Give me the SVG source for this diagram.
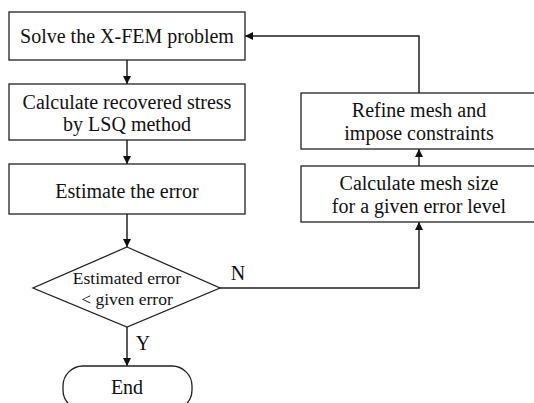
<svg xmlns="http://www.w3.org/2000/svg" width="534" height="403" viewBox="0 0 534 403">
<style>
.b{fill:#fff;stroke:#222;stroke-width:1.3}
.t{font-family:"Liberation Serif",serif;font-size:20px;fill:#111;text-anchor:middle}
.s{font-size:17.5px}
.c{fill:none;stroke:#222;stroke-width:1.5}
</style>
<defs><marker id="a" viewBox="0 0 10 10" refX="10" refY="5" markerWidth="8" markerHeight="8" markerUnits="userSpaceOnUse" orient="auto"><path d="M0,0L10,5L0,10z" fill="#111"/></marker></defs>
<rect width="534" height="403" fill="#fff"/>
<g id="connectors">
<path class="c" d="M127,60V84" marker-end="url(#a)"/>
<path class="c" d="M127,140V164" marker-end="url(#a)"/>
<path class="c" d="M127,214V247" marker-end="url(#a)"/>
<path class="c" d="M127,327V366" marker-end="url(#a)"/>
<path class="c" d="M220,288H419V222" marker-end="url(#a)"/>
<path class="c" d="M419,166V149" marker-end="url(#a)"/>
<path class="c" d="M419,93V36H245" marker-end="url(#a)"/>
<text class="t" x="238" y="280">N</text>
<text class="t" x="143" y="350">Y</text>
</g>
<g id="solve"><rect class="b" x="9" y="12" width="236" height="48"/><text class="t" x="127" y="43">Solve the X-FEM problem</text></g>
<g id="recover"><rect class="b" x="9" y="84" width="236" height="56"/><text class="t" x="127" y="109">Calculate recovered stress</text><text class="t" x="127" y="131">by LSQ method</text></g>
<g id="estimate"><rect class="b" x="9" y="164" width="236" height="50"/><text class="t" x="127" y="198">Estimate the error</text></g>
<g id="decision"><path class="b" d="M127,247L220,288L127,327L33,288Z"/><text class="t s" x="127" y="284">Estimated error</text><text class="t s" x="127" y="305">&lt; given error</text></g>
<g id="end"><rect class="b" x="63" y="366" width="129" height="44" rx="20"/><text class="t" x="127" y="394">End</text></g>
<g id="refine"><rect class="b" x="301" y="93" width="240" height="56"/><text class="t" x="419" y="117">Refine mesh and</text><text class="t" x="419" y="140">impose constraints</text></g>
<g id="meshsize"><rect class="b" x="301" y="166" width="240" height="56"/><text class="t" x="419" y="190">Calculate mesh size</text><text class="t" x="419" y="213">for a given error level</text></g>
</svg>
